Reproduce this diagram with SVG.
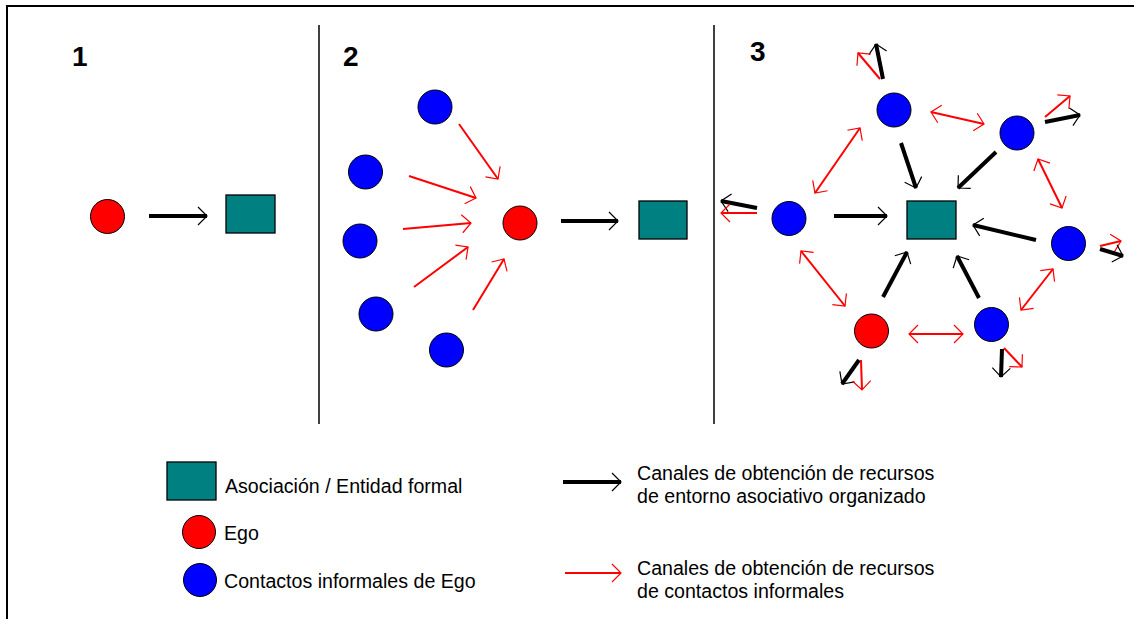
<svg xmlns="http://www.w3.org/2000/svg" width="1134" height="619" viewBox="0 0 1134 619">
<style>
.frame{fill:none;stroke:#000;stroke-width:2}
.div{stroke:#000;stroke-width:1.5}
.ego{fill:#FF0000;stroke:#000;stroke-width:1}
.con{fill:#0000FF;stroke:#000;stroke-width:1}
.ent{fill:#008080;stroke:#000;stroke-width:1.3}
.k{stroke:#000;stroke-width:4;fill:none;marker-end:url(#ahk)}
.r{stroke:#FF0000;stroke-width:2;fill:none;marker-end:url(#ahr)}
.rr{stroke:#FF0000;stroke-width:2;fill:none;marker-end:url(#ahr);marker-start:url(#ahr)}
.num{font-family:"Liberation Sans",Arial,sans-serif;font-weight:bold;font-size:28px;fill:#000}
.lbl{font-family:"Liberation Sans",Arial,sans-serif;font-size:19.6px;fill:#000}
</style>
<defs>
<marker id="ahk" markerUnits="userSpaceOnUse" markerWidth="14" markerHeight="22" refX="11" refY="10" orient="auto-start-reverse"><path d="M2,1 L11,10 L2,19" fill="none" stroke="#000" stroke-width="1.2"/></marker>
<marker id="ahr" markerUnits="userSpaceOnUse" markerWidth="14" markerHeight="22" refX="11" refY="10" orient="auto-start-reverse"><path d="M2,1 L11,10 L2,19" fill="none" stroke="#FF0000" stroke-width="1.2"/></marker>
</defs>
<rect width="1134" height="619" fill="#fff"/>
<rect class="frame" x="7" y="6" width="1200" height="700"/>
<line class="div" x1="319" y1="25" x2="319" y2="424"/>
<line class="div" x1="714" y1="25" x2="714" y2="424"/>

<g id="labels">
<text class="num" x="72" y="66">1</text>
<text class="num" x="343" y="66">2</text>
<text class="num" x="750" y="61">3</text>
</g>

<g id="connectors">
<!-- panel 1 -->
<line class="k" x1="149" y1="216" x2="207" y2="216"/>
<!-- panel 2 -->
<line class="r" x1="459" y1="124" x2="498" y2="179"/>
<line class="r" x1="409" y1="176" x2="476" y2="198"/>
<line class="r" x1="403" y1="229" x2="471" y2="223"/>
<line class="r" x1="414" y1="287" x2="468" y2="247"/>
<line class="r" x1="473" y1="310" x2="504" y2="259"/>
<line class="k" x1="561" y1="221" x2="618" y2="221"/>
<!-- panel 3 black to entity -->
<line class="k" x1="901" y1="143" x2="916" y2="188"/>
<line class="k" x1="996" y1="152" x2="958" y2="188"/>
<line class="k" x1="834" y1="216" x2="887" y2="216"/>
<line class="k" x1="1036" y1="240" x2="973" y2="225"/>
<line class="k" x1="883" y1="297" x2="907" y2="252"/>
<line class="k" x1="979" y1="298" x2="957" y2="256"/>
<!-- panel 3 red double -->
<line class="rr" x1="931" y1="112" x2="984" y2="124"/>
<line class="rr" x1="815" y1="193" x2="860" y2="128"/>
<line class="rr" x1="1038" y1="159" x2="1062" y2="208"/>
<line class="rr" x1="801" y1="251" x2="845" y2="306"/>
<line class="rr" x1="909" y1="334" x2="963" y2="334"/>
<line class="rr" x1="1021" y1="310" x2="1053" y2="269"/>
<!-- outward stubs -->
<line class="k" x1="883" y1="79" x2="876" y2="44"/>
<line class="r" x1="880" y1="79" x2="858" y2="53"/>
<line class="r" x1="1045" y1="117" x2="1070" y2="96"/>
<line class="k" x1="1045" y1="122" x2="1080" y2="115"/>
<line class="k" x1="757" y1="208" x2="721" y2="201"/>
<line class="r" x1="757" y1="213" x2="721" y2="213"/>
<line class="r" x1="1100" y1="246" x2="1121" y2="241"/>
<line class="k" x1="1100" y1="249" x2="1123" y2="256"/>
<line class="k" x1="1002" y1="349" x2="1001" y2="377"/>
<line class="r" x1="1004" y1="348" x2="1022" y2="367"/>
<line class="k" x1="859" y1="360" x2="842" y2="384"/>
<line class="r" x1="861" y1="360" x2="862" y2="390"/>
<!-- legend -->
<line class="k" x1="563" y1="482" x2="621" y2="482"/>
<line class="r" x1="565" y1="573" x2="621" y2="573"/>
</g>

<g id="p1-ego"><circle class="ego" cx="107.5" cy="216.5" r="17"/></g>
<g id="p1-entity"><rect class="ent" x="226" y="195" width="49" height="38"/></g>

<g id="p2-c1"><circle class="con" cx="435" cy="107" r="17"/></g>
<g id="p2-c2"><circle class="con" cx="365.5" cy="172" r="17"/></g>
<g id="p2-c3"><circle class="con" cx="360" cy="241" r="17"/></g>
<g id="p2-c4"><circle class="con" cx="376" cy="314" r="17"/></g>
<g id="p2-c5"><circle class="con" cx="446.5" cy="350" r="17"/></g>
<g id="p2-ego"><circle class="ego" cx="520" cy="223" r="17"/></g>
<g id="p2-entity"><rect class="ent" x="639" y="201" width="48" height="38"/></g>

<g id="p3-entity"><rect class="ent" x="907" y="201" width="49" height="38"/></g>
<g id="p3-c-top"><circle class="con" cx="894" cy="110" r="17"/></g>
<g id="p3-c-upright"><circle class="con" cx="1017" cy="133" r="17"/></g>
<g id="p3-c-left"><circle class="con" cx="789" cy="218.5" r="17"/></g>
<g id="p3-c-right"><circle class="con" cx="1068.5" cy="243.5" r="17"/></g>
<g id="p3-c-lowright"><circle class="con" cx="991.5" cy="324.5" r="17"/></g>
<g id="p3-ego"><circle class="ego" cx="871.5" cy="331" r="17"/></g>

<g id="legend-entity">
<rect class="ent" x="167" y="462" width="49" height="38"/>
<text class="lbl" x="225" y="493">Asociación / Entidad formal</text>
</g>
<g id="legend-ego">
<circle class="ego" cx="199" cy="532" r="16.5"/>
<text class="lbl" x="224" y="540">Ego</text>
</g>
<g id="legend-contacts">
<circle class="con" cx="200" cy="580" r="16.5"/>
<text class="lbl" x="224" y="588">Contactos informales de Ego</text>
</g>
<g id="legend-black">
<text class="lbl" x="637" y="480">Canales de obtención de recursos</text>
<text class="lbl" x="637" y="503">de entorno asociativo organizado</text>
</g>
<g id="legend-red">
<text class="lbl" x="637" y="575">Canales de obtención de recursos</text>
<text class="lbl" x="637" y="598">de contactos informales</text>
</g>
</svg>
